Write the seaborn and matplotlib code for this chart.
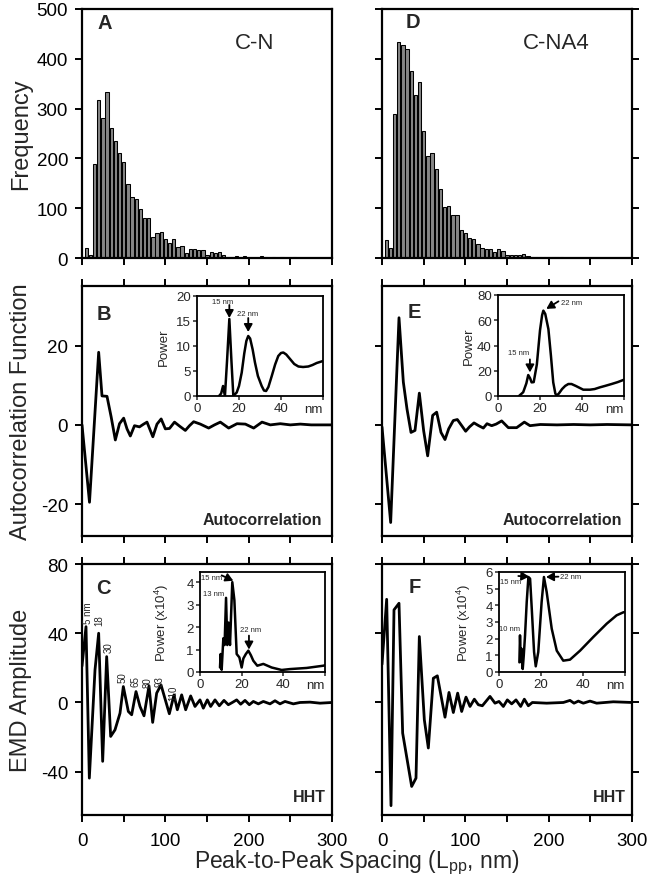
import matplotlib
matplotlib.use("Agg")
import matplotlib.pyplot as plt
import seaborn as sns
import pandas as pd

# ------------------------------------------------------------------ data
hist_bins = [5, 10, 15, 20, 25, 30, 35, 40, 45, 50,
             55, 60, 65, 70, 75, 80, 85, 90, 95, 100,
             105, 110, 115, 120, 125, 130, 135, 140, 145, 150,
             155, 160, 165, 170, 175, 180, 185, 190, 195, 200,
             205, 210, 215, 220, 225, 230, 235, 240, 245, 250, 255]
freq_cn = [21, 6, 188, 317, 281, 333, 261, 235, 210, 193,
           149, 123, 119, 99, 81, 81, 43, 51, 53, 39,
           31, 38, 23, 25, 10, 19, 19, 16, 17, 7,
           13, 10, 13, 6, 3, 2, 5, 2, 4, 1,
           1, 0, 4, 2, 1, 2, 1, 2, 0, 1, 2]
freq_na4 = [37, 21, 290, 433, 428, 419, 375, 327, 353, 256,
            205, 211, 179, 139, 103, 105, 86, 87, 56, 50,
            40, 39, 28, 21, 19, 18, 13, 19, 15, 7,
            6, 6, 7, 9, 4, 2, 3, 3, 3, 2,
            2, 2, 3, 1, 1, 0, 0, 0, 0, 0, 0]

acf_cn_lag = [0, 9, 20, 24, 30, 35, 40, 45, 50, 54,
              58, 63, 69, 74, 78, 85, 90, 95, 100, 105,
              111, 117, 124, 129, 134, 142, 152, 159, 166, 176,
              186, 196, 206, 216, 226, 238, 250, 262, 275, 300]
acf_cn = [0, -19.5, 18.3, 7.3, 7.2, 2.0, -3.8, 0.3, 1.7, -1.0,
          -2.8, -0.2, -0.5, 0.2, 0.7, -3.0, 0.2, 1.5, -1.0, -0.9,
          0.7, -0.3, -1.4, -0.2, 0.8, 0.2, -0.8, 0.0, 0.7, -0.8,
          0.3, 0.2, -0.8, 0.7, 0.0, 0.3, 0.0, 0.2, 0.0, 0.0]

acf_na4_lag = [0, 10.4, 20.4, 25.6, 30, 34.8, 39.6, 44.8, 50, 54.8,
               60.8, 65.6, 70.8, 75.6, 80, 85.6, 90.4, 95, 100.4, 105,
               110.4, 116, 121.6, 126, 131.6, 137, 143.6, 151.6, 161.6, 170.8,
               177.6, 190, 210, 230, 250, 270, 300]
acf_na4 = [-0.5, -24.6, 27, 10.8, 4, -1.9, -1.4, 8, -1.5, -7.8,
           2.4, 3.2, -1.9, -3.7, -1, 1.1, 1.35, 0, -1.6, -0.5,
           0.5, -0.2, -0.8, 0.3, -0.2, 0.2, 1.0, -0.7, -0.7, 0.7,
           -0.2, 0.1, 0, 0.1, 0, 0.1, 0]

emd_cn_x = [0, 4.8, 8.8, 15.6, 20, 24.8, 29.6, 34.4, 39.6, 45.6,
            49.6, 55.6, 59.6, 64.8, 69.6, 74.4, 80.4, 84.8, 89.6, 94.8,
            104.8, 110.4, 114.4, 119.6, 124.4, 130.4, 135.6, 141.6, 145.6, 150.4,
            154.4, 159.6, 164.8, 170.4, 175.6, 180.4, 185.6, 190.4, 195.6, 200.8,
            205.6, 211.6, 217.6, 225.6, 231.6, 237.6, 243.6, 253.6, 261.6, 273.6,
            285.6, 300]
emd_cn = [21, 43.8, -43.7, 18.8, 40, -34, 26.5, -19.6, -15.8, -6.2,
          9.2, -5.2, -7.1, 6.3, -2.3, -7.7, 9.6, -11.5, 5.4, 10.2,
          -6.5, 4.4, -4.2, 4.4, -4.2, 3.8, -2.3, 1.5, -3.3, 1.5,
          -2.3, 1.5, -1.9, 1.2, -1.3, 0, 1.5, -1, 1.2, -1.3,
          0.6, -0.8, 0.6, -0.8, 1, -0.8, 0.6, -0.8, 0, 0.2,
          -0.4, 0]

emd_na4_x = [0, 5.6, 10.8, 14.4, 20.4, 24.8, 35.6, 40.8, 44.8, 50.8,
             55.6, 61.6, 66.4, 75.6, 80.4, 85.6, 90.8, 95.6, 100.8, 105.6,
             110.8, 115.6, 120.4, 129.6, 135.6, 140.4, 145.6, 150.4, 155.6, 160.8,
             166.4, 170.8, 175.6, 180.4, 197.6, 217.6, 225.6, 230.4, 235.6, 241.6,
             249.6, 257.6, 277.6, 300]
emd_na4 = [22, 59.6, -59.6, 53.5, 57.3, -17.7, -48.5, -43.7, 38.1, -10,
           -26.3, 14, 15.4, -8.5, 5.8, -5.8, 5.4, -5.2, 3.1, -2.3,
           1.9, -1.3, -1.9, 3.5, -0.4, 0.6, -2.3, 1.5, -0.8, 1.5,
           -2.3, 1.9, -1.9, 0, -0.4, 0, 1.2, -0.4, 0.8, -0.4,
           0.8, -0.4, 0.4, 0]

# inset spectra
ps_cn_x = [10.5, 11.5, 12.4, 13.3, 14.3, 15.4, 16.4, 17.3, 18.9, 20,
           21.3, 22.5, 23.5, 24.4, 25.3, 26.5, 27.6, 29, 30.8, 31.9,
           32.9, 34, 35.6, 37.2, 38.7, 40, 41.1, 42.5, 44.3, 46.3,
           48.3, 50.5, 53, 55, 57, 60]
ps_cn = [0, 0.5, 2, 0, 7, 15.4, 7, 0, 0.7, 2,
         4.7, 8.5, 11, 12, 11.5, 9.3, 6.7, 4, 2, 1.1,
         1, 1.8, 4, 6.3, 8, 8.6, 8.7, 8.3, 7.4, 6.4,
         5.9, 5.8, 5.9, 6.2, 6.6, 7]

ps_na4_x = [10, 12, 13.5, 14.4, 15.3, 16, 17, 18.5, 20, 21,
            21.6, 22.5, 24, 25.2, 26.3, 27.3, 27.9, 29, 30.5, 32,
            33.5, 35, 37, 40.6, 43.8, 46, 48.6, 51, 54.1, 57, 60]
ps_na4 = [0, 3, 10, 16.6, 14, 10.8, 11, 25, 52, 64,
          67.6, 65, 53, 32, 10.8, 2, 0.3, 2, 5.5, 8,
          9.5, 9.5, 8, 5, 5, 5.5, 6.9, 8, 9.5, 11, 12.9]

hht_cn_x = [9.6, 9.9, 10.4, 11.2, 11.8, 12.5, 13.1, 13.7, 14.4, 15.5,
            16.5, 17.6, 18.9, 20, 20.8, 22, 23.2, 24.4, 25.6, 27.5,
            30.4, 34.4, 39.2, 43.2, 51.2, 59.2, 60]
hht_cn = [0.2, 0.8, 0.1, 1.5, 1.2, 3.3, 1.2, 2.2, 1.2, 4.0,
          3.2, 0.8, 0.65, 0.2, 0.6, 0.8, 0.95, 0.75, 0.5, 0.28,
          0.36, 0.2, 0.09, 0.13, 0.18, 0.28, 0.3]

hht_na4_x = [9.7, 10.0, 10.4, 10.7, 11.3, 11.8, 12.4, 13.2, 14.0, 14.8,
             15.6, 16.7, 17.5, 18.7, 20.3, 21.4, 22.7, 25.1, 27.5, 30.6,
             33.8, 38.6, 44.9, 51.3, 56, 59.2, 60]
hht_na4 = [0.58, 2.2, 0.6, 1.4, 0.18, 1.0, 2.2, 4.2, 5.7, 5.6,
           3.8, 1.2, 0.34, 1.2, 4.2, 5.7, 4.8, 2.6, 1.28, 0.68,
           0.74, 1.28, 2.1, 2.9, 3.4, 3.58, 3.6]

emd_peak_labels = ["5 nm", "18", "30", "50", "65", "80", "93", "110"]
emd_peak_label_x = [6.8, 20.6, 32.4, 49, 64, 79, 93.5, 109]
emd_peak_label_y = [46, 45, 29, 11.7, 9.8, 9.2, 9.8, 1.7]

# ------------------------------------------------------------------ style
sns.set_style("ticks")
plt.rcParams["font.family"] = ["Liberation Sans", "DejaVu Sans"]
plt.rcParams["axes.unicode_minus"] = False
plt.rcParams["mathtext.fontset"] = "custom"
plt.rcParams["mathtext.rm"] = "Liberation Sans"
plt.rcParams["mathtext.it"] = "Liberation Sans:italic"
plt.rcParams["mathtext.bf"] = "Liberation Sans:bold"

W, H = 651, 887
fig = plt.figure(figsize=(W / 100, H / 100), dpi=100)


def px_axes(x0, y0, x1, y1):
    return fig.add_axes([x0 / W, 1 - y1 / H, (x1 - x0) / W, (y1 - y0) / H])


cols = [(82, 332), (382, 632)]
rows = [(10, 259), (287, 537), (565, 816)]
axes = [[px_axes(cols[c][0], rows[r][0], cols[c][1], rows[r][1]) for c in range(2)]
        for r in range(3)]

LW = 2.0


def style_main(ax, row, col):
    for s in ax.spines.values():
        s.set_visible(True)
        s.set_linewidth(1.6)
        s.set_color("black")
    ax.set_xlim(0, 300)
    ax.set_xticks([0, 50, 100, 150, 200, 250, 300])
    ax.xaxis.set_major_formatter(
        matplotlib.ticker.FuncFormatter(lambda v, p: f"{int(v)}" if v % 100 == 0 else ""))
    ax.tick_params(axis="both", direction="out", length=5, width=1.4,
                   labelsize=13.5, colors="black")
    ax.tick_params(axis="x", bottom=True, top=(row > 0), labelbottom=(row == 2),
                   labeltop=False, pad=7)
    ax.tick_params(axis="y", left=True, right=(col == 1), labelleft=(col == 0),
                   labelright=False, pad=5)
    ax.set_xlabel("")
    ax.set_ylabel("")
    ax.grid(False)


# --- histograms
for col, freq in enumerate([freq_cn, freq_na4]):
    ax = axes[0][col]
    df = pd.DataFrame({"Lpp": hist_bins, "count": freq})
    sns.barplot(data=df, x="Lpp", y="count", native_scale=True, color="#858585",
                saturation=1, edgecolor="black", linewidth=0.75, width=0.8,
                errorbar=None, ax=ax)
    style_main(ax, 0, col)
    ax.set_ylim(0, 500)
    ax.set_yticks([0, 100, 200, 300, 400, 500])

# --- autocorrelation
for col, (lx, ly) in enumerate([(acf_cn_lag, acf_cn), (acf_na4_lag, acf_na4)]):
    ax = axes[1][col]
    sns.lineplot(x=lx, y=ly, color="black", lw=LW, ax=ax, legend=False)
    style_main(ax, 1, col)
    ax.set_ylim(-28, 35)
    ax.set_yticks([-20, 0, 20])

# --- EMD
for col, (ex, ey) in enumerate([(emd_cn_x, emd_cn), (emd_na4_x, emd_na4)]):
    ax = axes[2][col]
    sns.lineplot(x=ex, y=ey, color="black", lw=LW, ax=ax, legend=False)
    style_main(ax, 2, col)
    ax.set_ylim(-65, 80)
    ax.set_yticks([-40, 0, 40, 80])

# EMD peak labels
for t, x, y in zip(emd_peak_labels, emd_peak_label_x, emd_peak_label_y):
    axes[2][0].text(x, y, t, rotation=90, ha="center", va="bottom", fontsize=7)

# panel letters & titles
letters = [["A", "D"], ["B", "E"], ["C", "F"]]
letter_pos = [[(0.092, 0.944), (0.124, 0.948)],
              [(0.088, 0.888), (0.128, 0.897)],
              [(0.084, 0.908), (0.132, 0.912)]]
for r in range(3):
    for c in range(2):
        x, y = letter_pos[r][c]
        axes[r][c].text(x, y, letters[r][c], transform=axes[r][c].transAxes,
                        ha="center", va="center", fontsize=14.5, fontweight="bold")
axes[0][0].text(0.692, 0.867, "C-N", transform=axes[0][0].transAxes,
                ha="center", va="center", fontsize=16)
axes[0][1].text(0.696, 0.867, "C-NA4", transform=axes[0][1].transAxes,
                ha="center", va="center", fontsize=16)
for c in range(2):
    axes[1][c].text(0.962, 0.065, "Autocorrelation", transform=axes[1][c].transAxes,
                    ha="right", va="center", fontsize=11.5, fontweight="bold")
    axes[2][c].text(0.975, 0.075, "HHT", transform=axes[2][c].transAxes,
                    ha="right", va="center", fontsize=11.5, fontweight="bold")

# y labels
for r, lab in enumerate(["Frequency", "Autocorrelation Function", "EMD Amplitude"]):
    axes[r][0].set_ylabel(lab, fontsize=17)
    axes[r][0].yaxis.set_label_coords(-0.2, 0.5)

fig.text(357 / W, 1 - 868 / H, r"Peak-to-Peak Spacing (L$_{\mathrm{pp}}$, nm)",
         ha="center", va="baseline", fontsize=16.5)

# ------------------------------------------------------------------ insets
inset_boxes = [[(197, 297, 323, 397), (498, 296, 624, 397)],
               [(200, 573, 325, 673), (499, 573, 625, 673)]]
inset_ylims = [[(0, 20), (0, 80)], [(0, 4.45), (0, 6)]]
inset_yticks = [[[0, 5, 10, 15, 20], [0, 20, 40, 60, 80]],
                [[0, 1, 2, 3, 4], [0, 1, 2, 3, 4, 5, 6]]]
inset_ylabels = [["Power", "Power"], [r"Power (x10$^{4}$)", r"Power (x10$^{4}$)"]]
inset_labx = [[-0.214, -0.183], [-0.232, -0.206]]
inset_data = [[(ps_cn_x, ps_cn), (ps_na4_x, ps_na4)],
              [(hht_cn_x, hht_cn), (hht_na4_x, hht_na4)]]
insets = [[None, None], [None, None]]
for r in range(2):
    for c in range(2):
        ax = px_axes(*inset_boxes[r][c])
        insets[r][c] = ax
        ax.set_facecolor("white")
        x, y = inset_data[r][c]
        sns.lineplot(x=x, y=y, color="black", lw=1.8, ax=ax, legend=False)
        ax.set_xlim(0, 60)
        ax.set_ylim(*inset_ylims[r][c])
        ax.set_xticks([0, 20, 40, 60])
        ax.set_xticklabels(["0", "20", "40", ""])
        ax.set_yticks(inset_yticks[r][c])
        for s in ax.spines.values():
            s.set_visible(True)
            s.set_linewidth(1.3)
            s.set_color("black")
        ax.tick_params(direction="out", length=3, width=1.1, labelsize=9.5, pad=1.5,
                       top=False, right=False)
        ax.set_xlabel("")
        ax.set_ylabel(inset_ylabels[r][c], fontsize=9.5)
        ax.yaxis.set_label_coords(inset_labx[r][c], 0.5)
        ax.annotate("nm", xy=(1, 0), xycoords="axes fraction", xytext=(0, -5),
                    textcoords="offset points", ha="right", va="top", fontsize=9.5)

AFS = 5.5
arrow = dict(arrowstyle="-|>,head_length=0.45,head_width=0.25", lw=1.3, color="black",
             shrinkA=0, shrinkB=0)

ax = insets[0][0]
ax.text(12.1, 18.9, "15 nm", ha="center", va="center", fontsize=AFS)
ax.annotate("", xy=(15.4, 15.6), xytext=(15.4, 18.2), arrowprops=arrow)
ax.text(24.3, 16.5, "22 nm", ha="center", va="center", fontsize=AFS)
ax.annotate("", xy=(24.4, 12.8), xytext=(24.4, 15.6), arrowprops=arrow)

ax = insets[0][1]
ax.text(9.7, 34.6, "15 nm", ha="center", va="center", fontsize=AFS)
ax.annotate("", xy=(15.2, 18.7), xytext=(15.2, 29), arrowprops=arrow)
ax.text(29.8, 74, "22 nm", ha="left", va="center", fontsize=AFS)
ax.annotate("", xy=(23.0, 69), xytext=(28.8, 75), arrowprops=arrow)

ax = insets[1][0]
ax.text(5.6, 4.2, "15 nm", ha="center", va="center", fontsize=AFS)
ax.annotate("", xy=(16, 4.06), xytext=(10.4, 4.3), arrowprops=arrow)
ax.text(6.5, 3.5, "13 nm", ha="center", va="center", fontsize=AFS)
ax.text(24.2, 1.87, "22 nm", ha="center", va="center", fontsize=AFS)
ax.annotate("", xy=(23.5, 1.0), xytext=(23.5, 1.62), arrowprops=arrow)

ax = insets[1][1]
ax.text(5.6, 5.42, "15 nm", ha="center", va="center", fontsize=AFS)
ax.annotate("", xy=(14.4, 5.72), xytext=(9.2, 5.76), arrowprops=arrow)
ax.text(29.0, 5.7, "22 nm", ha="left", va="center", fontsize=AFS)
ax.annotate("", xy=(22.4, 5.7), xytext=(28.3, 5.72), arrowprops=arrow)
ax.text(5.2, 2.6, "10 nm", ha="center", va="center", fontsize=AFS)

fig.savefig("out.png", dpi=100)
